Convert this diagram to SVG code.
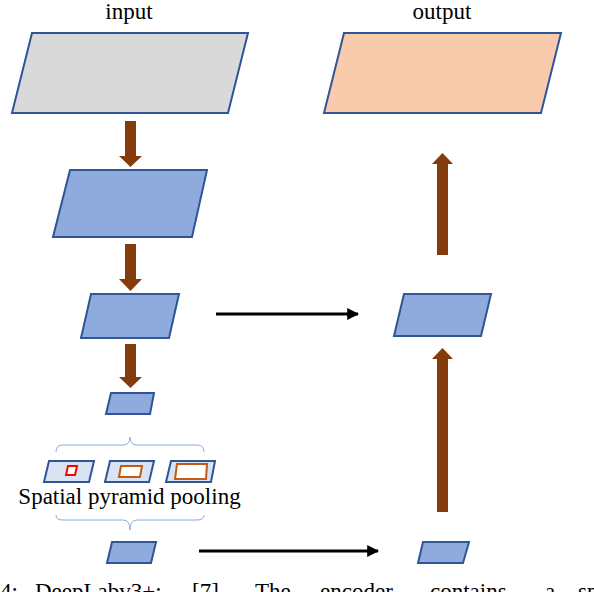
<svg xmlns="http://www.w3.org/2000/svg" width="594" height="592" viewBox="0 0 594 592">
<style>
.t{font-family:"Liberation Serif","Times New Roman",serif;fill:#000}
.pg{stroke:#2f5597;stroke-width:2;stroke-linejoin:miter}
.blue{fill:#8faadc}
.lite{fill:#dae3f3}
.brown{fill:#843c0c}
.brace{fill:none;stroke:#8faadc;stroke-width:1}
.blk{stroke:#000;stroke-width:3;fill:none}
</style>
<defs>
<marker id="ah" viewBox="0 0 10 10" refX="9" refY="5" markerWidth="4" markerHeight="4" orient="auto" markerUnits="strokeWidth">
<path d="M0,0 L10,5 L0,10 Z" fill="#000"/>
</marker>
</defs>
<rect width="594" height="592" fill="#fff"/>
<g id="label-input"><text class="t" x="129" y="19" font-size="23" text-anchor="middle">input</text></g>
<g id="label-output"><text class="t" x="442" y="19" font-size="23" text-anchor="middle">output</text></g>
<g id="input"><polygon class="pg" fill="#d9d9d9" points="32,33 248,33 228,113 12,113"/></g>
<g id="output"><polygon class="pg" fill="#f8cbad" points="344,33 561,33 541,113 324,113"/></g>
<g id="enc1"><polygon class="pg blue" points="70,170 207,170 192,237 53,237"/></g>
<g id="enc2"><polygon class="pg blue" points="91,294 179,294 169,338 81,338"/></g>
<g id="dec1"><polygon class="pg blue" points="404,294 491,294 481,336 394,336"/></g>
<g id="enc3"><polygon class="pg blue" points="111,393 154,393 150,414 106,414"/></g>
<g id="spp">
<path class="brace" d="M56,452 Q56,445 63,445 L123,445 Q130,445 130,437 Q130,445 137,445 L197,445 Q204,445 204,452"/>
<polygon class="pg lite" points="49,461 94,461 89,482 44,482"/>
<polygon fill="#fff" stroke="#ff0000" stroke-width="2" points="68,466 77,466 75,475 66,475"/>
<polygon class="pg lite" points="110,461 154,461 149,482 105,482"/>
<polygon fill="#fff" stroke="#c55a11" stroke-width="2" points="121,466 142,466 140,477 119,477"/>
<polygon class="pg lite" points="171,461 215,461 211,482 166,482"/>
<polygon fill="#fff" stroke="#c55a11" stroke-width="2" points="177,464 207,464 206,479 175,479"/>
<text class="t" x="129.5" y="504" font-size="23" text-anchor="middle">Spatial pyramid pooling</text>
<path class="brace" d="M56,515 Q56,520 63,520 L123,520 Q130,520 130,530 Q130,520 137,520 L197,520 Q204,520 204,515"/>
</g>
<g id="enc4"><polygon class="pg blue" points="112,542 156,542 151,563 107,563"/></g>
<g id="dec0"><polygon class="pg blue" points="423,542 469,542 463,563 418,563"/></g>
<g id="connectors">
<polygon class="brown" points="125,121 136,121 136,156 142,156 130.5,167 119,156 125,156"/>
<polygon class="brown" points="125,244 136,244 136,279 142,279 130.5,291 119,279 125,279"/>
<polygon class="brown" points="125,344 136,344 136,377 142,377 130.5,388 119,377 125,377"/>
<polygon class="brown" points="437,255 448,255 448,164 453,164 442.5,153 432,164 437,164"/>
<polygon class="brown" points="437,512 448,512 448,359 453,359 442.5,348 432,359 437,359"/>
<line class="blk" x1="216" y1="314" x2="358" y2="314" marker-end="url(#ah)"/>
<line class="blk" x1="199" y1="551" x2="378" y2="551" marker-end="url(#ah)"/>
</g>
<g id="caption" class="t" font-size="23">
<text x="0" y="599">4:</text>
<text x="35" y="599">DeepLabv3+:</text>
<text x="192" y="599">[7].</text>
<text x="255" y="599">The</text>
<text x="320" y="599">encoder</text>
<text x="430" y="599">contains</text>
<text x="545" y="599">a</text>
<text x="578" y="599">spa</text>
</g>
</svg>
